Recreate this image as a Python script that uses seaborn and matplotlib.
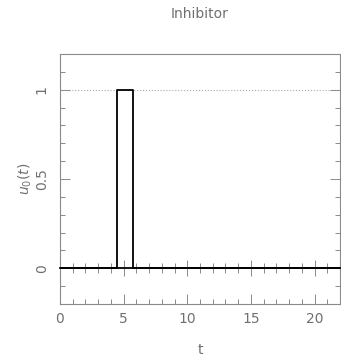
import matplotlib
matplotlib.use("Agg")
import matplotlib.pyplot as plt
import seaborn as sns
import pandas as pd
from matplotlib.ticker import MultipleLocator

# pulse of the inhibitor
t = [0, 4.5, 5.75, 22]
u0 = [0, 1, 0, 0]
xticks = [0, 5, 10, 15, 20]
yticks = [0, 0.5, 1]
ytick_labels = ["0", "0.5", "1"]

df = pd.DataFrame({"t": t, "u0": u0})

sns.set_style("ticks")
plt.rcParams["font.family"] = ["DejaVu Sans"]
grey = "#8a8a8a"
textc = "#707070"

fig = plt.figure(figsize=(3.41, 3.61), dpi=100)
ax = fig.add_axes([60 / 341, 57 / 361, 280 / 341, 250 / 361])

sns.lineplot(data=df, x="t", y="u0", drawstyle="steps-post", color="black",
             linewidth=1.3, ax=ax, sort=False)
ax.axhline(1, color="#aaaaaa", linestyle=":", linewidth=0.8, zorder=0)

ax.set_xlim(0, 22)
ax.set_ylim(-0.2, 1.2)
ax.set_xticks(xticks)
ax.set_yticks(yticks)
ax.set_yticklabels(ytick_labels, rotation=90, va="center")
ax.xaxis.set_minor_locator(MultipleLocator(1))
ax.yaxis.set_minor_locator(MultipleLocator(0.1))
ax.tick_params(which="both", direction="in", top=True, right=True,
               color=grey, labelcolor=textc, labelsize=10, width=0.7)
ax.tick_params(which="major", length=7)
ax.tick_params(which="minor", length=3.5)
ax.tick_params(axis="y", which="major", pad=8)
ax.tick_params(axis="x", which="major", pad=6)
for s in ax.spines.values():
    s.set_color(grey)
    s.set_linewidth(0.8)
ax.set_xlabel("t", color=textc, fontsize=10, labelpad=12)
ax.set_ylabel(r"$u_0(t)$", color=textc, fontsize=10, labelpad=1)
ax.set_title("Inhibitor", color=textc, fontsize=10, pad=26)

# zero line with ticks crossing it
ax2 = ax.twiny()
ax2.set_xlim(0, 22)
for name, s in ax2.spines.items():
    s.set_visible(name == "bottom")
ax2.spines["bottom"].set_position(("data", 0))
ax2.spines["bottom"].set_color("black")
ax2.spines["bottom"].set_linewidth(1.3)
ax2.xaxis.set_ticks_position("bottom")
ax2.set_xticks(xticks)
ax2.xaxis.set_minor_locator(MultipleLocator(1))
ax2.tick_params(which="both", direction="inout", labelbottom=False,
                color=grey, width=0.7)
ax2.tick_params(which="major", length=12)
ax2.tick_params(which="minor", length=7)

fig.savefig("out.png", dpi=100)
